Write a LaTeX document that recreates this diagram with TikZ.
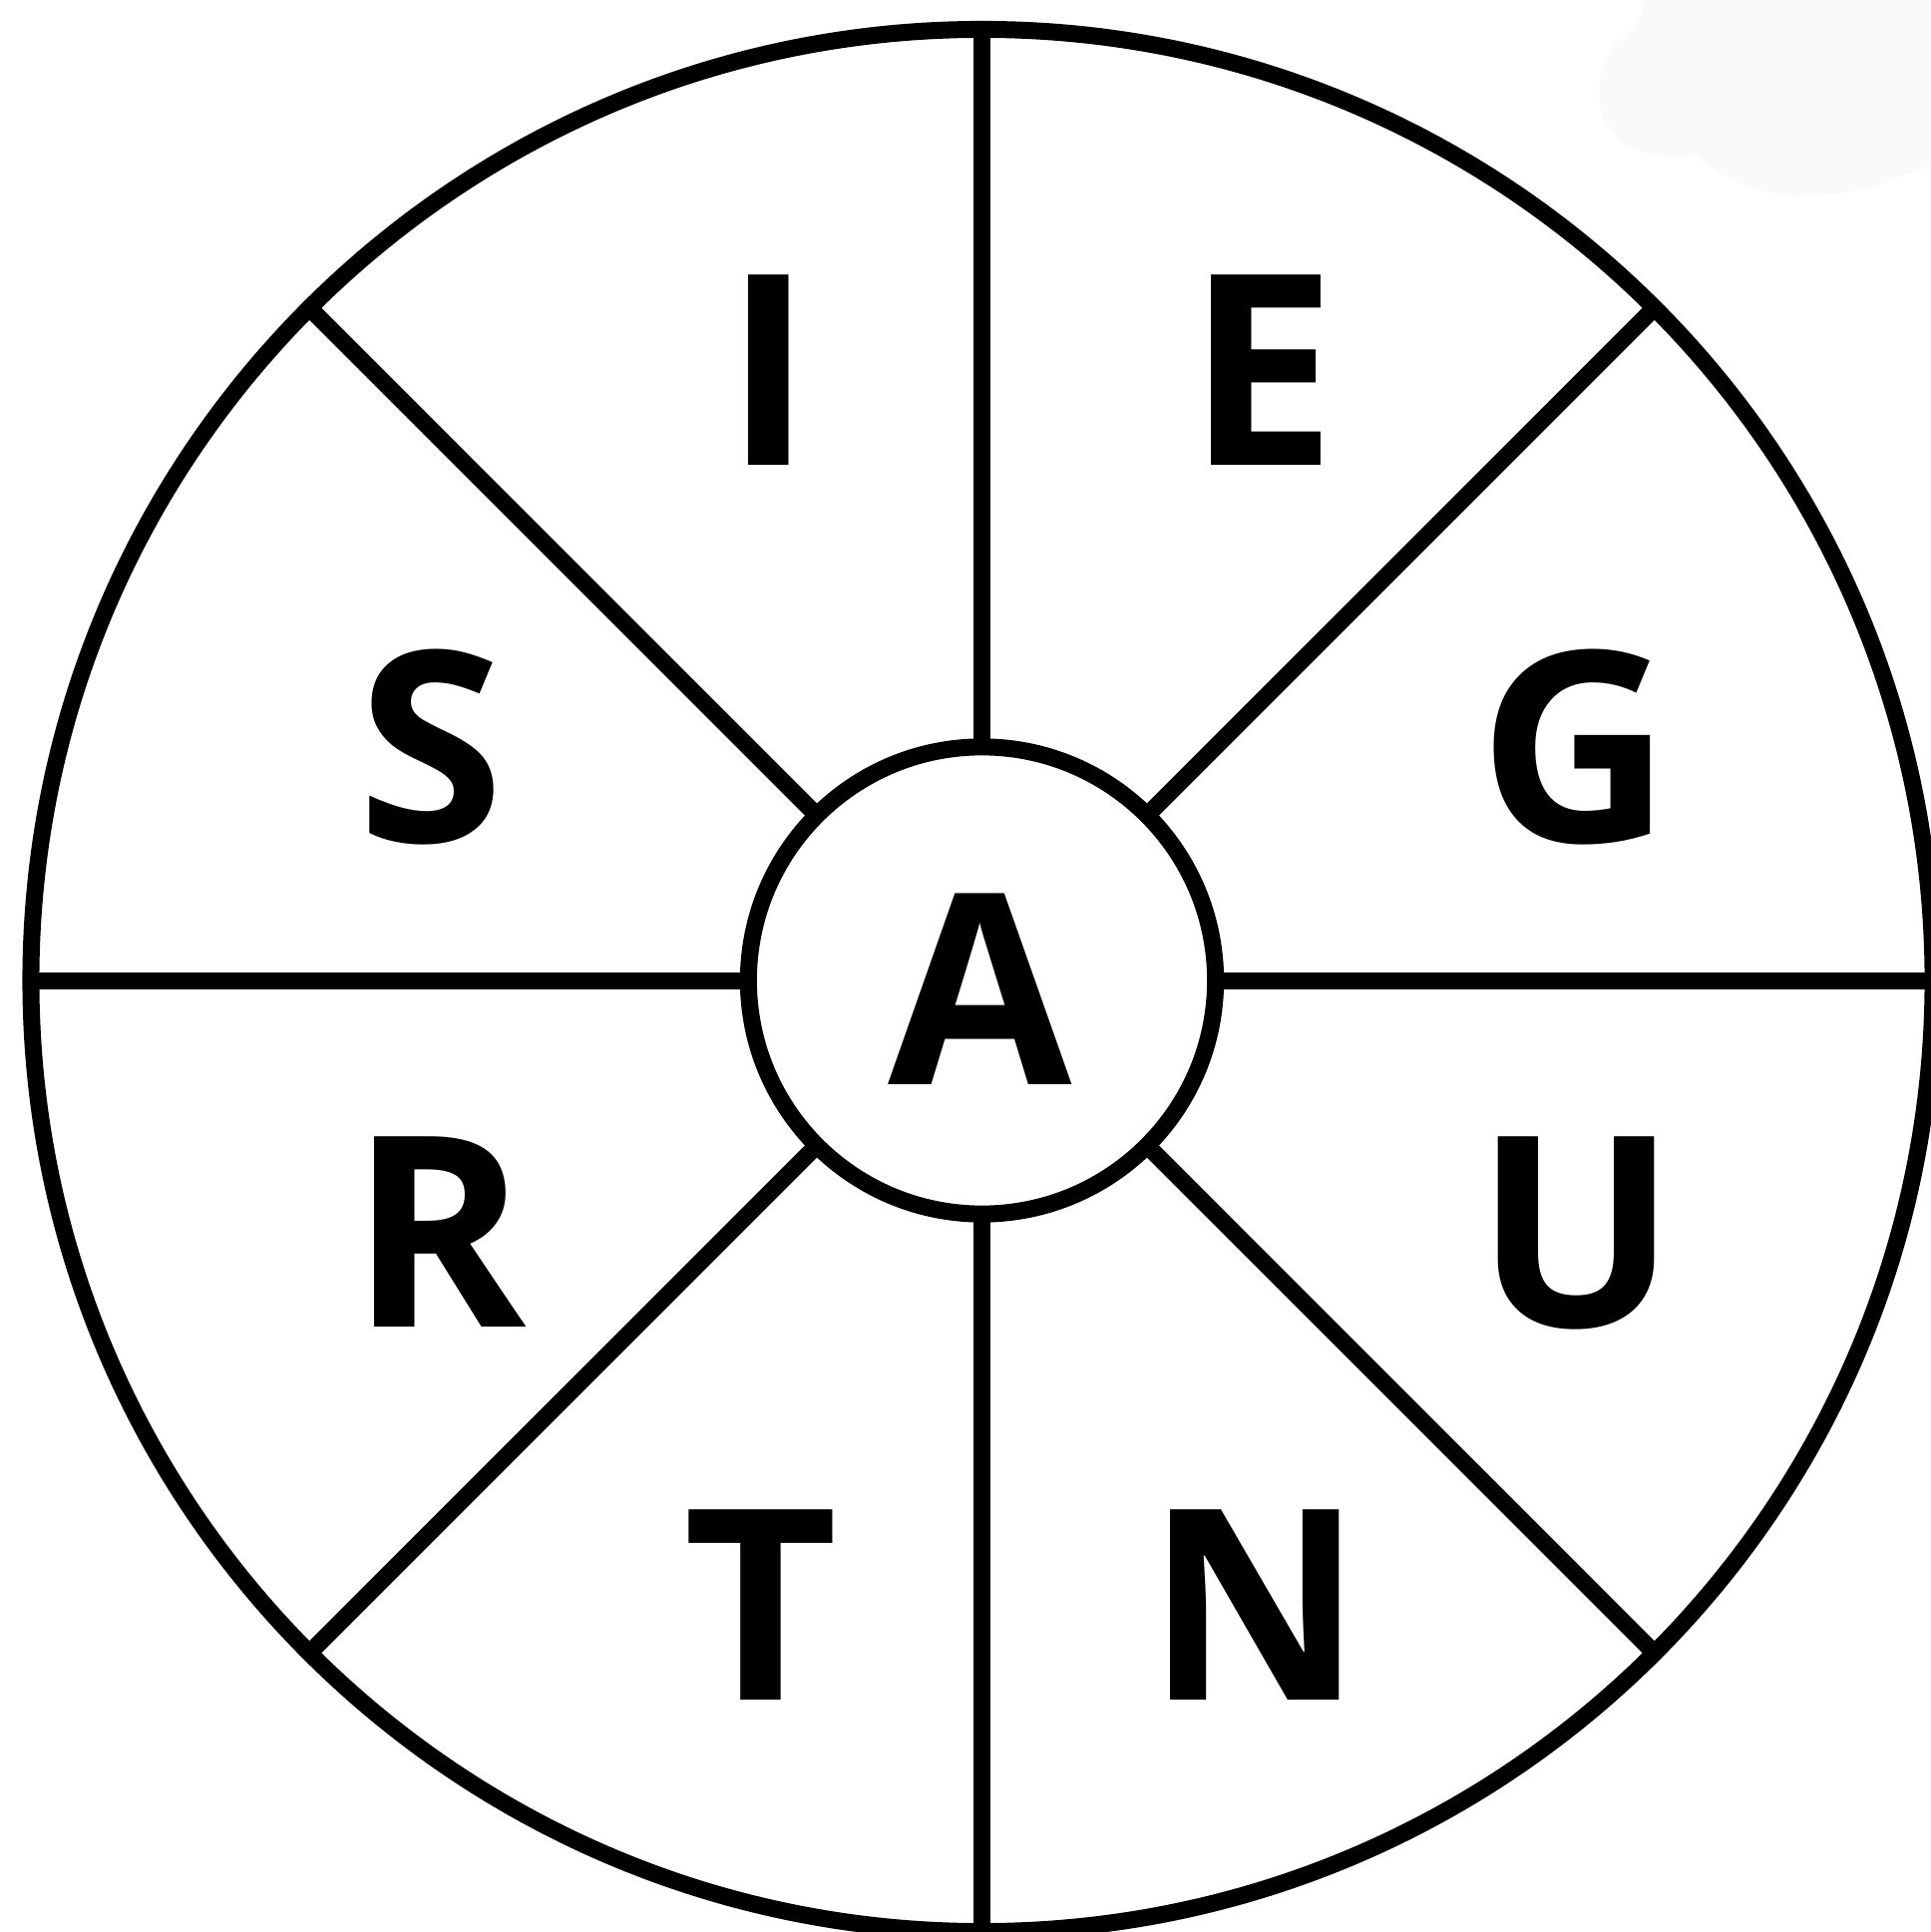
\documentclass[tikz,border=0pt]{standalone}
\usepackage{fontspec}
\setsansfont{Open Sans}
\usepackage{tikz}

\begin{document}
\begin{tikzpicture}[x=0.01cm, y=-0.01cm,
    rim/.style={draw, circle, line width=1.7mm, outer sep=0pt, inner sep=0pt},
    spoke/.style={line width=1.7mm},
    letter/.style={font=\sffamily\bfseries\fontsize{76}{76}\selectfont, inner sep=0pt}]
  \useasboundingbox (0,0) rectangle (1935,1937);
  % faint smudge in the corner
  \fill[black!2] (1648,0) .. controls (1646,20) and (1640,28) .. (1630,35)
    .. controls (1600,55) and (1595,110) .. (1615,130)
    .. controls (1635,158) and (1675,162) .. (1700,155)
    .. controls (1750,200) and (1830,215) .. (1935,165) -- (1935,0) -- cycle;
  \node[rim, minimum size=19.06cm] (wheel) at (984.5,983) {};
  \node[rim, minimum size=4.68cm] (hub) at (984.5,983) {};
  \foreach \ang in {0,45,...,315}
    \draw[spoke] (hub.\ang) -- (wheel.\ang);
  \node[letter] (a) at (982.5,992) {A};
  \node[letter] (i) at (771,371) {I};
  \node[letter] (e) at (1265,371) {E};
  \node[letter] (s) at (432,749) {S};
  \node[letter] (g) at (1579,749) {G};
  \node[letter] (r) at (440,1235) {R};
  \node[letter] (u) at (1580,1236) {U};
  \node[letter] (t) at (763,1609) {T};
  \node[letter] (n) at (1258,1609) {N};
\end{tikzpicture}
\end{document}
